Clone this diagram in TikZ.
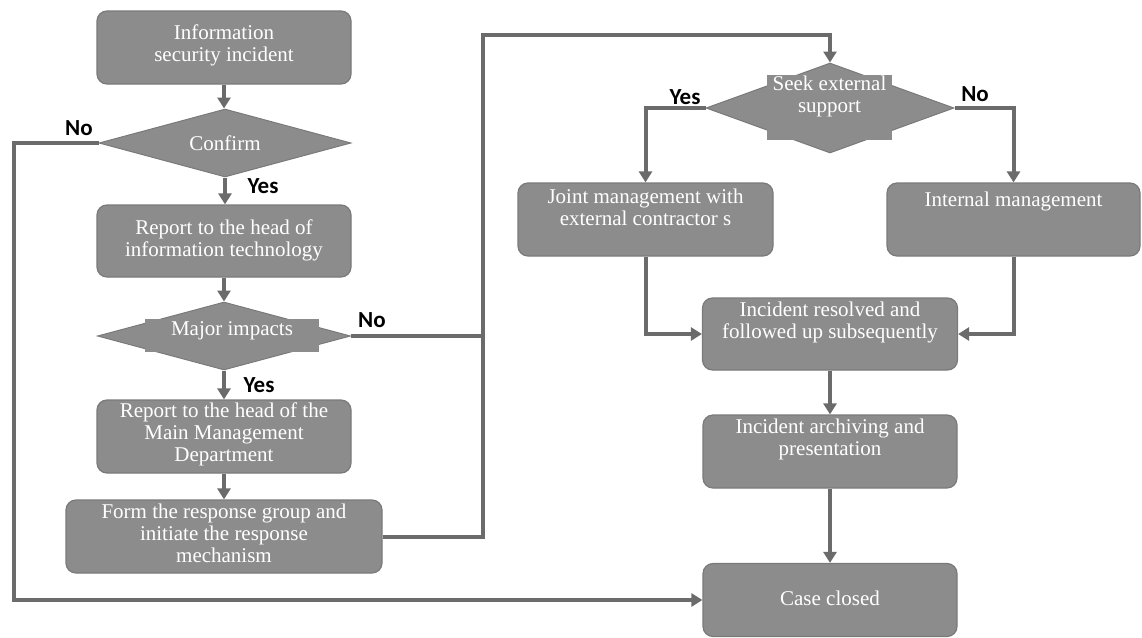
\documentclass[tikz,border=0pt]{standalone}
\usepackage{fontspec}
\setmainfont{Liberation Serif}
\newfontfamily\lblfont{Carlito}
\usetikzlibrary{shapes.geometric,arrows.meta}
\definecolor{boxfill}{HTML}{8C8C8C}
\definecolor{boxedge}{HTML}{7A7A7A}
\definecolor{linecol}{HTML}{6B6B6B}
\tikzset{
  box/.style={draw=boxedge,line width=1.2pt,fill=boxfill,rounded corners=10pt,inner sep=0pt},
  dia/.style={diamond,draw=boxedge,line width=1pt,fill=boxfill,inner sep=0pt},
  mask/.style={fill=boxfill,inner sep=0pt},
  txt/.style={text=white,align=center,font=\fontsize{21}{22}\selectfont,inner sep=0pt},
  lbl/.style={font=\lblfont\bfseries\fontsize{23}{24}\selectfont,text=black,inner sep=0pt},
  conn/.style={draw=linecol,line width=4pt},
  arr/.style={conn,-{Triangle[width=13pt,length=11pt]}}
}
\begin{document}
\begin{tikzpicture}[x=1pt,y=-1pt]
\useasboundingbox (0,0) rectangle (1142,637);
% boxes
\node[box,minimum width=254pt,minimum height=73pt] (b1) at (224,47.5) {};
\node[txt] (b1t) at (224,45) {Information\\security incident};
\node[dia,minimum width=252pt,minimum height=68pt] (conf) at (225,143) {};
\node[txt] (conft) at (225,143) {Confirm};
\node[box,minimum width=254pt,minimum height=72pt] (b2) at (224,241) {};
\node[txt] (b2t) at (224,240) {Report to the head of\\information technology};
\node[dia,minimum width=253pt,minimum height=68pt] (maj) at (224,336) {};
\node[mask,minimum width=174pt,minimum height=33pt] (majm) at (232,335.5) {};
\node[txt] (majt) at (232,331) {Major impacts};
\node[box,minimum width=254pt,minimum height=73pt] (b3) at (224,436.5) {};
\node[txt] (b3t) at (224,434) {Report to the head of the\\Main Management\\Department};
\node[box,minimum width=316pt,minimum height=73pt] (b4) at (224,536.5) {};
\node[txt] (b4t) at (224,533) {Form the response group and\\initiate the response\\mechanism};
\node[dia,minimum width=248pt,minimum height=90pt] (seek) at (830,108) {};
\node[mask,minimum width=125pt,minimum height=65pt] (seekm) at (829.5,107.5) {};
\node[txt] (seekt) at (829.5,96) {Seek external\\support};
\node[box,minimum width=255pt,minimum height=73pt] (joint) at (645.5,219.5) {};
\node[txt] (jointt) at (645.5,207) {Joint management with\\external contractor s};
\node[box,minimum width=253pt,minimum height=73pt] (intm) at (1013.5,219.5) {};
\node[txt] (intmt) at (1013.5,201) {Internal management};
\node[box,minimum width=255pt,minimum height=72pt] (res) at (830,334) {};
\node[txt] (rest) at (830,322) {Incident resolved and\\followed up subsequently};
\node[box,minimum width=254pt,minimum height=73pt] (arch) at (830,451.5) {};
\node[txt] (archt) at (830,439) {Incident archiving and\\presentation};
\node[box,minimum width=254pt,minimum height=73pt] (case) at (830,600) {};
\node[txt] (caset) at (830,598) {Case closed};
% labels
\node[lbl] (l1) at (79,128) {No};
\node[lbl] (l2) at (263,186) {Yes};
\node[lbl] (l3) at (372,320) {No};
\node[lbl] (l4) at (259,385) {Yes};
\node[lbl] (l5) at (685,97) {Yes};
\node[lbl] (l6) at (975,94) {No};
% coordinates
\coordinate (lc) at (14,143);
\coordinate (tc) at (483,35);
% connectors
\draw[arr] (b1.south) -- (b1.south |- conf.north);
\draw[arr] (conf.south) -- (conf.south |- b2.north);
\draw[arr] (b2.south) -- (maj.north);
\draw[arr] (maj.south) -- (b3.north);
\draw[arr] (b3.south) -- (b4.north);
\draw[arr] (conf.west) -- (lc) |- (case.west);
\draw[conn] (maj.east) -- (maj.east -| tc);
\draw[arr] (b4.east) -| (tc) -| (seek.north);
\draw[arr] (seek.west) -| (joint.north);
\draw[arr] (seek.east) -| (intm.north);
\draw[arr] (joint.south) |- (res.west);
\draw[arr] (intm.south) |- (res.east);
\draw[arr] (res.south) -- (arch.north);
\draw[arr] (arch.south) -- (case.north);
\end{tikzpicture}
\end{document}
